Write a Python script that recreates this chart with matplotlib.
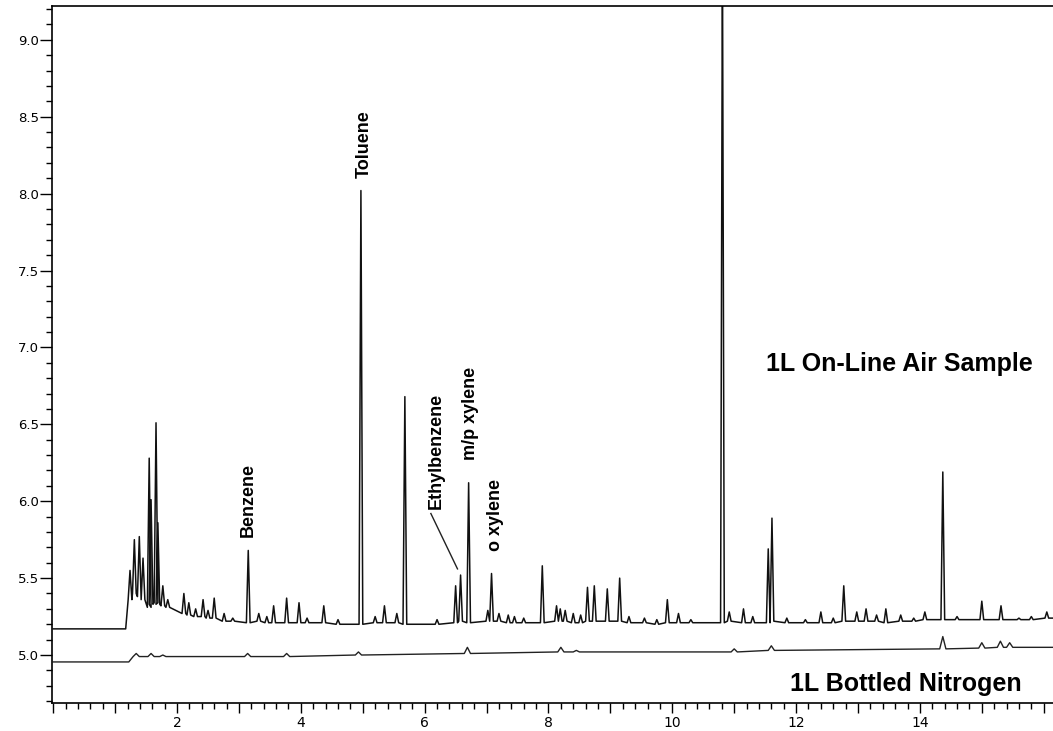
import matplotlib.pyplot as plt
from matplotlib.ticker import MultipleLocator, FixedLocator

# Air sample: retention time (min), apex, foot level of each peak
air_rt = [1.24, 1.31, 1.39, 1.45, 1.55, 1.58, 1.66, 1.69, 1.77, 1.85,
          2.11, 2.19, 2.42, 2.60, 2.76, 3.15, 3.32, 3.56, 3.77, 3.97,
          4.37, 4.97, 5.35, 5.68, 6.50, 6.58, 6.71, 7.02, 7.08, 7.35,
          7.60, 7.90, 8.13, 8.19, 8.40, 8.63, 8.74, 8.95, 9.15, 9.92,
          10.10, 10.81, 10.92, 11.15, 11.55, 11.61, 12.40, 12.77, 12.98, 13.13,
          13.45, 13.69, 14.08, 14.37, 15.00, 15.31, 16.05]
air_top = [5.55, 5.75, 5.77, 5.63, 6.28, 6.01, 6.51, 5.86, 5.45, 5.36,
           5.40, 5.34, 5.36, 5.37, 5.27, 5.68, 5.27, 5.32, 5.37, 5.34,
           5.32, 8.02, 5.32, 6.68, 5.45, 5.52, 6.12, 5.29, 5.53, 5.26,
           5.24, 5.58, 5.32, 5.30, 5.27, 5.44, 5.45, 5.43, 5.50, 5.36,
           5.27, 9.60, 5.28, 5.30, 5.69, 5.89, 5.28, 5.45, 5.28, 5.30,
           5.30, 5.26, 5.28, 6.19, 5.35, 5.32, 5.28]
air_foot = [5.36, 5.40, 5.38, 5.36, 5.31, 5.33, 5.34, 5.33, 5.32, 5.31,
            5.27, 5.26, 5.25, 5.24, 5.22, 5.21, 5.22, 5.21, 5.21, 5.21,
            5.21, 5.20, 5.21, 5.20, 5.21, 5.22, 5.21, 5.22, 5.22, 5.21,
            5.21, 5.21, 5.22, 5.22, 5.21, 5.22, 5.22, 5.22, 5.22, 5.21,
            5.21, 5.21, 5.22, 5.21, 5.21, 5.22, 5.21, 5.22, 5.22, 5.22,
            5.21, 5.22, 5.23, 5.23, 5.23, 5.23, 5.24]
# small baseline wiggles of the air trace
air_small_rt = [2.30, 2.50, 2.90, 3.45, 4.10, 4.60, 5.20, 5.55, 6.20, 7.20,
                7.45, 8.27, 8.52, 9.30, 9.55, 9.75, 10.30, 11.30, 11.85, 12.15,
                12.60, 13.30, 13.90, 14.60, 15.60, 15.80]
air_small_top = [5.30, 5.29, 5.24, 5.25, 5.24, 5.23, 5.25, 5.27, 5.23, 5.27,
                 5.25, 5.29, 5.26, 5.25, 5.24, 5.23, 5.23, 5.25, 5.24, 5.23,
                 5.24, 5.26, 5.24, 5.25, 5.24, 5.25]
air_small_foot = [5.25, 5.24, 5.22, 5.21, 5.21, 5.20, 5.21, 5.21, 5.20, 5.22,
                  5.21, 5.22, 5.21, 5.21, 5.21, 5.20, 5.21, 5.21, 5.21, 5.21,
                  5.21, 5.22, 5.22, 5.23, 5.23, 5.23]
air_start = 5.17  # flat line before the solvent step
air_step = 1.17

# Bottled nitrogen blank
n2_rt = [1.34, 1.58, 1.77, 3.14, 3.77, 4.93, 6.69, 8.20, 8.45, 11.0,
         11.6, 14.37, 15.0, 15.3, 15.45]
n2_top = [5.01, 5.01, 5.00, 5.01, 5.01, 5.02, 5.05, 5.05, 5.03, 5.04,
          5.06, 5.12, 5.08, 5.09, 5.08]
n2_foot = [4.99, 4.99, 4.99, 4.99, 4.99, 5.00, 5.01, 5.02, 5.02, 5.02,
           5.03, 5.04, 5.045, 5.05, 5.05]
n2_start = 4.955
n2_step = 1.22

labels = ["Benzene", "Toluene", "Ethylbenzene", "m/p xylene", "o xylene"]
label_x = [3.15, 5.02, 6.18, 6.74, 7.15]
label_y = [6.01, 8.32, 6.33, 6.57, 5.91]


def trace(start, step, peaks, w=0.03, x_end=16.2):
    xs = [0, step]
    ys = [start, start]
    for t, h, f in sorted(peaks):
        xs += [t - w, t, t + w]
        ys += [f, h, f]
    xs.append(x_end)
    ys.append(ys[-1])
    return xs, ys


fig = plt.figure(figsize=(10.53, 7.31), dpi=100)
ax = fig.add_axes([0.0494, 0.0383, 0.9506, 0.9535])

air_peaks = list(zip(air_rt, air_top, air_foot)) + \
    list(zip(air_small_rt, air_small_top, air_small_foot))
ax1x, ax1y = trace(air_start, air_step, air_peaks)
ax.plot(ax1x, ax1y, color="#111111", lw=1.1)
n2x, n2y = trace(n2_start, n2_step, list(zip(n2_rt, n2_top, n2_foot)), w=0.05)
ax.plot(n2x, n2y, color="#222222", lw=1.0)

for s, x, y in zip(labels, label_x, label_y):
    ax.text(x, y, s, rotation=90, ha="center", va="center",
            fontsize=13, fontweight="bold", family="Liberation Sans")
ax.plot([6.10, 6.53], [5.92, 5.56], color="#222222", lw=1.0)  # ethylbenzene leader

ax.text(11.52, 6.89, "1L On-Line Air Sample", ha="left", va="center",
        fontsize=18, fontweight="bold", family="Liberation Sans")
ax.text(11.9, 4.81, "1L Bottled Nitrogen", ha="left", va="center",
        fontsize=18, fontweight="bold", family="Liberation Sans")

ax.set_xlim(-0.02, 16.15)
ax.set_ylim(4.688, 9.22)

ax.set_xticks(range(0, 17))
ax.set_xticklabels([str(i) if i % 2 == 0 and 0 < i < 16 else "" for i in range(0, 17)])
ax.xaxis.set_minor_locator(MultipleLocator(0.2))
ax.yaxis.set_major_locator(FixedLocator([5.0, 5.5, 6.0, 6.5, 7.0, 7.5, 8.0, 8.5, 9.0]))
ax.yaxis.set_minor_locator(MultipleLocator(0.1))
ax.set_yticklabels(["5.0", "5.5", "6.0", "6.5", "7.0", "7.5", "8.0", "8.5", "9.0"])

ax.tick_params(axis="x", which="major", length=7, width=1, labelsize=10, pad=2)
ax.tick_params(axis="x", which="minor", length=4.5, width=1)
ax.tick_params(axis="y", which="major", length=8.5, width=1, labelsize=9.5, pad=1)
ax.tick_params(axis="y", which="minor", length=4.5, width=1)

ax.spines["right"].set_visible(False)
for side in ["left", "top", "bottom"]:
    ax.spines[side].set_linewidth(1.2)

fig.savefig("out.png", dpi=100)
